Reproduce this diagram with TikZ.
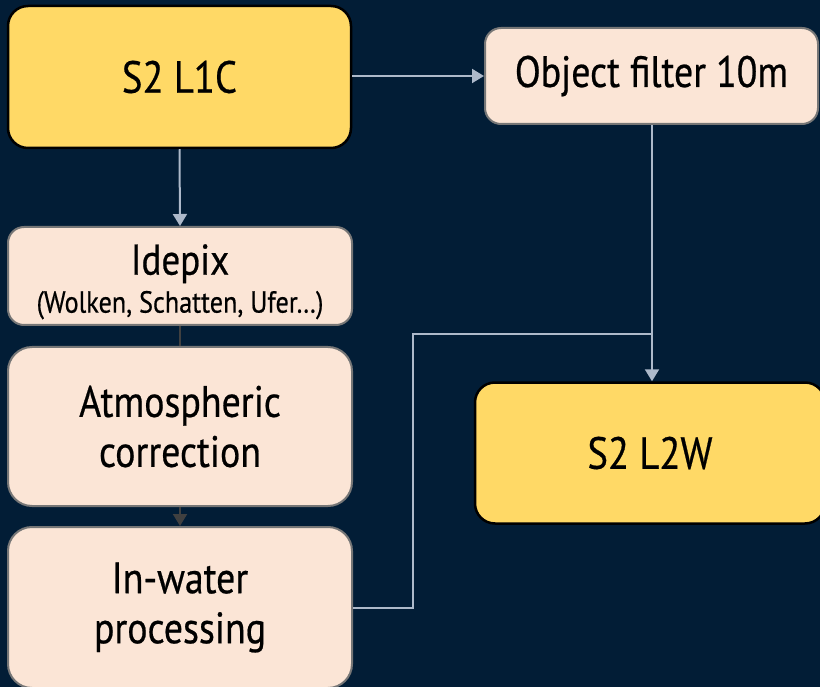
\documentclass[tikz,border=0pt]{standalone}
\usepackage{fontspec}
\setmainfont{PT Sans}[FakeStretch=0.86, FakeBold=0.5]
\usetikzlibrary{arrows.meta}
\definecolor{midnight}{RGB}{2, 29, 54}
\definecolor{sunflower}{RGB}{255, 217, 102}
\definecolor{linen}{RGB}{251, 229, 214}
\definecolor{ashgray}{RGB}{118, 118, 118}
\definecolor{steel}{RGB}{173, 185, 202}
\definecolor{graphite}{RGB}{64, 64, 64}

\tikzset{
  product/.style={draw=black, fill=sunflower, line width=2.5pt, rounded corners=20pt,
                  inner sep=0pt, align=center, font=\fontsize{45}{50}\selectfont},
  stage/.style={draw=ashgray, fill=linen, line width=2pt, rounded corners=16pt,
                inner sep=0pt, align=center, font=\fontsize{44}{50}\selectfont},
  flow/.style={steel, line width=2pt, -{Triangle[width=14pt,length=12pt]}},
  chain/.style={graphite, line width=2pt, -{Triangle[width=14pt,length=12pt]}},
}

\begin{document}
\begin{tikzpicture}[x=1pt, y=-1pt]
    \useasboundingbox[fill=midnight] (0,0) rectangle (820,687);
    % input and output products
    \node[product, minimum width=343pt, minimum height=142pt] (l1c) at (179.5,77) {S2 L1C};
    \node[product, minimum width=350pt, minimum height=141pt] (l2w) at (650,453) {S2 L2W};
    % processing stages
    \node[stage, minimum width=333pt, minimum height=96pt]  (objfilter) at (651.5,76) {Object filter 10m};
    \node[stage, minimum width=344pt, minimum height=98pt, font=\fontsize{43}{38}\selectfont] (idepix) at (180,276)
         {\rule{0pt}{42pt}Idepix\\{\fontsize{30.5}{38}\selectfont(Wolken, Schatten, Ufer…)}};
    \node[stage, minimum width=344pt, minimum height=159pt, rounded corners=24pt] (atmo) at (180,426.5) {Atmospheric\\correction};
    \node[stage, minimum width=344pt, minimum height=161pt, rounded corners=24pt] (inwater) at (180,607.5) {In-water\\processing};
    \coordinate (elbow) at (413,334);
    \coordinate (merge) at (652,334);
    % connectors
    \draw[flow]  (l1c.east |- objfilter.west) -- (objfilter.west);
    \draw[flow]  (l1c.south) -- (idepix.north);
    \draw[graphite, line width=2pt] (idepix.south) -- (atmo.north);
    \draw[chain] (atmo.south) -- (inwater.north);
    \draw[flow]  (merge |- objfilter.south) -- (merge |- l2w.north);
    \draw[steel, line width=2pt] (inwater.east) -- (inwater.east -| elbow) |- (merge);
\end{tikzpicture}
\end{document}
